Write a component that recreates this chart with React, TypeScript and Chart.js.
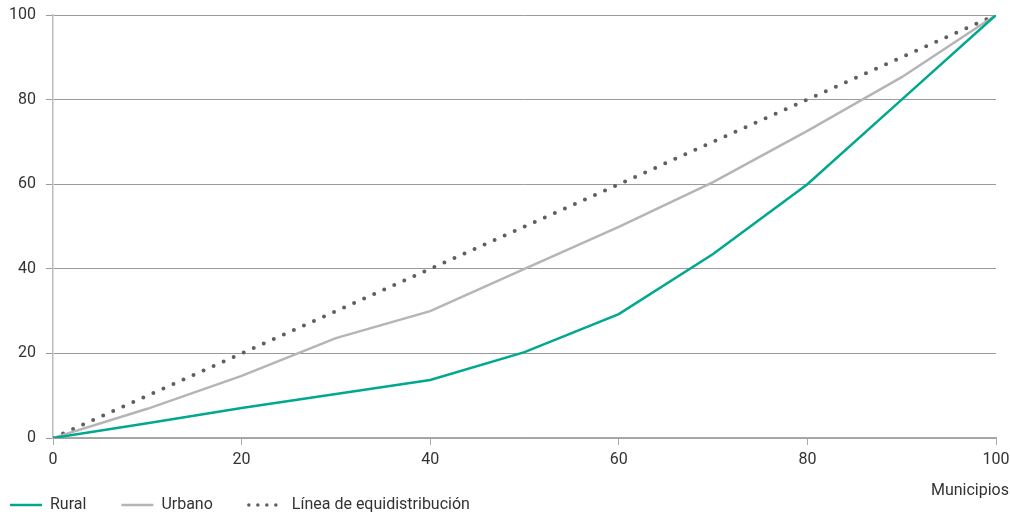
import React, { useEffect, useRef } from "react";
import { Chart, registerables } from "chart.js";

Chart.register(...registerables);

const municipios = [0, 10, 20, 30, 40, 50, 60, 70, 80, 90, 100];
const rural = [0, 3.5, 7.1, 10.4, 13.7, 20.3, 29.3, 43.5, 60, 80, 100];
const urbano = [0, 6.9, 14.7, 23.6, 30, 40, 49.9, 60.5, 72.6, 85.3, 100];
const equiX = [0, 100];
const equiY = [0, 100];
const seriesNames = ["Rural", "Urbano", "Línea de equidistribución"];
const xTitle = "Municipios";

const FONT = "Roboto, sans-serif";
const FSIZE = 16;
const TEXT = "#333333";

const legendPlugin = {
  id: "customLegend",
  afterDraw(chart: any) {
    const ctx = chart.ctx as CanvasRenderingContext2D;
    ctx.save();
    ctx.font = `${FSIZE}px ${FONT}`;
    ctx.fillStyle = TEXT;
    ctx.textBaseline = "middle";
    // axis title
    ctx.textAlign = "right";
    ctx.fillText(xTitle, 1009, 491);
    // legend
    ctx.textAlign = "left";
    const y = 505;
    let x = 10;
    chart.data.datasets.forEach((ds: any) => {
      const dotted = Array.isArray(ds.borderDash) && ds.borderDash.length > 0;
      const w = dotted ? 36 : 32;
      ctx.save();
      ctx.strokeStyle = ds.borderColor;
      ctx.lineWidth = dotted ? 3.5 : ds.borderWidth;
      if (dotted) {
        ctx.setLineDash([0, 9]);
        ctx.lineCap = "round";
      }
      ctx.beginPath();
      ctx.moveTo(x + (dotted ? 1 : 0), y);
      ctx.lineTo(x + w, y);
      ctx.stroke();
      ctx.restore();
      const tx = x + w + 8;
      ctx.fillText(ds.label, tx, y);
      x = tx + ctx.measureText(ds.label).width + 35;
    });
    ctx.restore();
  },
};

export default function App() {
  const ref = useRef<HTMLCanvasElement | null>(null);

  useEffect(() => {
    if (!ref.current) return;
    const chart = new Chart(ref.current, {
      type: "line",
      data: {
        datasets: [
          {
            label: seriesNames[0],
            data: municipios.map((m, i) => ({ x: m, y: rural[i] })),
            borderColor: "#00a88e",
            borderWidth: 2.5,
            pointRadius: 0,
            tension: 0,
          },
          {
            label: seriesNames[1],
            data: municipios.map((m, i) => ({ x: m, y: urbano[i] })),
            borderColor: "#b5b5b5",
            borderWidth: 2.5,
            pointRadius: 0,
            tension: 0,
          },
          {
            label: seriesNames[2],
            data: equiX.map((m, i) => ({ x: m, y: equiY[i] })),
            borderColor: "#5f5f5f",
            borderWidth: 4,
            borderDash: [0, 11],
            borderCapStyle: "round",
            pointRadius: 0,
            tension: 0,
          },
        ],
      },
      options: {
        animation: false,
        responsive: false,
        layout: { padding: { left: 0, right: 14, top: 15, bottom: 0 } },
        plugins: {
          legend: { display: false },
          tooltip: { enabled: false },
        },
        scales: {
          x: {
            type: "linear",
            min: 0,
            max: 100,
            ticks: {
              stepSize: 20,
              padding: 5,
              color: TEXT,
              font: { family: FONT, size: FSIZE },
              maxRotation: 0,
            },
            grid: {
              drawOnChartArea: false,
              drawTicks: true,
              tickLength: 7,
              color: "#aaaaaa",
            },
            border: { display: true, color: "#aaaaaa", width: 1.5 },
            afterFit: (scale: any) => {
              scale.height = 77;
              scale.paddingLeft = 0;
              scale.paddingRight = 0;
            },
          },
          y: {
            min: 0,
            max: 100,
            ticks: {
              stepSize: 20,
              padding: 10,
              color: TEXT,
              font: { family: FONT, size: FSIZE },
            },
            grid: {
              color: "#9a9a9a",
              lineWidth: 1,
              drawTicks: true,
              tickLength: 7,
            },
            border: { display: true, color: "#bbbbbb", width: 1.5 },
            afterFit: (scale: any) => {
              scale.width = 53;
              scale.paddingTop = 0;
              scale.paddingBottom = 0;
            },
          },
        },
      },
      plugins: [legendPlugin],
    } as any);
    return () => chart.destroy();
  }, []);

  return (
    <div style={{ position: "absolute", left: 0, top: 0, width: 1010, height: 515, background: "#fff" }}>
      <canvas ref={ref} width={1010} height={515} />
    </div>
  );
}
